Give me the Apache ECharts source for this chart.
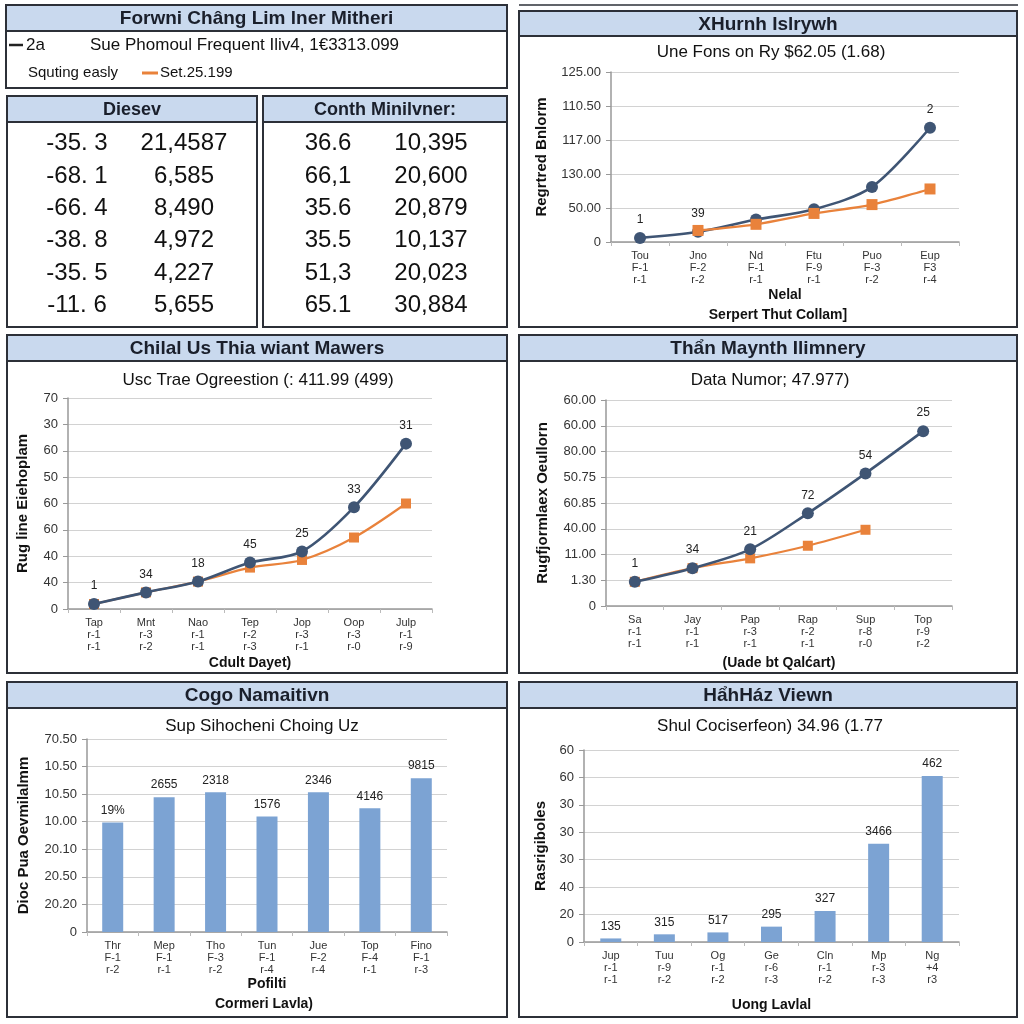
<!DOCTYPE html>
<html>
<head>
<meta charset="utf-8">
<script src="https://cdn.jsdelivr.net/npm/echarts@6/dist/echarts.min.js"></script>
<style>html,body{margin:0;padding:0;background:#fff}#c{width:1024px;height:1024px}</style>
</head>
<body>
<div id="c"></div>
<script>
// ---------- DATA ----------
const headerTitle = 'Forwni Châng Lim lner Mitheri';
const headerLine1a = '2a';
const headerLine1b = 'Sue Phomoul Frequent Iliv4, 1€3313.099';
const headerLine2a = 'Squting easly';
const headerLine2b = 'Set.25.199';

const tableLeftTitle = 'Diesev';
const tableLeftCol1 = ['-35. 3', '-68. 1', '-66. 4', '-38. 8', '-35. 5', '-11. 6'];
const tableLeftCol2 = ['21,4587', '6,585', '8,490', '4,972', '4,227', '5,655'];
const tableRightTitle = 'Conth Minilvner:';
const tableRightCol1 = ['36.6', '66,1', '35.6', '35.5', '51,3', '65.1'];
const tableRightCol2 = ['10,395', '20,600', '20,879', '10,137', '20,023', '30,884'];

// Top-right line chart
const trTitle = 'XHurnh Islrywh';
const trSubtitle = 'Une Fons on Ry $62.05 (1.68)';
const trCategories = ['Tou\nF-1\nr-1', 'Jno\nF-2\nr-2', 'Nd\nF-1\nr-1', 'Ftu\nF-9\nr-1', 'Puo\nF-3\nr-2', 'Eup\nF3\nr-4'];
const trNavy = [3, 7.5, 16.5, 24, 40.5, 84];
const trOrange = [null, 8.5, 13, 21, 27.5, 39];
const trTicks = ['0', '50.00', '130.00', '117.00', '110.50', '125.00'];
const trPointLabels = ['1', '39', '', '', '', '2'];
const trYName = 'Regrtred Bnlorm';
const trXName = 'Nelal';
const trXName2 = 'Serpert Thut Collam]';

// Middle-left line chart
const mlTitle = 'Chilal Us Thia wiant Mawers';
const mlSubtitle = 'Usc Trae Ogreestion (: 411.99 (499)';
const mlCategories = ['Tap\nr-1\nr-1', 'Mnt\nr-3\nr-2', 'Nao\nr-1\nr-1', 'Tep\nr-2\nr-3', 'Jop\nr-3\nr-1', 'Oop\nr-3\nr-0', 'Julp\nr-1\nr-9'];
const mlNavy = [1.9, 6.3, 10.4, 17.6, 21.8, 38.6, 62.7];
const mlOrange = [1.9, 6.3, 10.4, 15.7, 18.6, 27.1, 40.0];
const mlTicks = ['0', '40', '40', '60', '60', '50', '60', '30', '70'];
const mlPointLabels = ['1', '34', '18', '45', '25', '33', '31'];
const mlYName = 'Rug line Eiehoplam';
const mlXName = 'Cdult Dayet)';

// Middle-right line chart
const mrTitle = 'Thẩn Maynth Ilimnery';
const mrSubtitle = 'Data Numor; 47.977)';
const mrCategories = ['Sa\nr-1\nr-1', 'Jay\nr-1\nr-1', 'Pap\nr-3\nr-1', 'Rap\nr-2\nr-1', 'Sup\nr-8\nr-0', 'Top\nr-9\nr-2'];
const mrNavy = [9.4, 14.7, 22, 36, 51.5, 67.9];
const mrOrange = [9.4, 14.7, 18.5, 23.4, 29.6, null];
const mrTicks = ['0', '1.30', '11.00', '40.00', '60.85', '50.75', '80.00', '60.00', '60.00'];
const mrPointLabels = ['1', '34', '21', '72', '54', '25'];
const mrYName = 'Rugfjormlaex Oeullorn';
const mrXName = '(Uade bt Qalćart)';

// Bottom-left bar chart
const blTitle = 'Cogo Namaitivn';
const blSubtitle = 'Sup Sihocheni Choing Uz';
const blCategories = ['Thr\nF-1\nr-2', 'Mep\nF-1\nr-1', 'Tho\nF-3\nr-2', 'Tun\nF-1\nr-4', 'Jue\nF-2\nr-4', 'Top\nF-4\nr-1', 'Fino\nF-1\nr-3'];
const blValues = [39.7, 48.9, 50.7, 41.9, 50.7, 44.9, 55.8];
const blTicks = ['0', '20.20', '20.50', '20.10', '10.00', '10.50', '10.50', '70.50'];
const blBarLabels = ['19%', '2655', '2318', '1576', '2346', '4146', '9815'];
const blYName = 'Dioc Pua Oevmilalmm';
const blXName = 'Pofilti';
const blXName2 = 'Cormeri Lavla)';

// Bottom-right bar chart
const brTitle = 'HẩhHáz Viewn';
const brSubtitle = 'Shul Cociserfeon) 34.96 (1.77';
const brCategories = ['Jup\nr-1\nr-1', 'Tuu\nr-9\nr-2', 'Og\nr-1\nr-2', 'Ge\nr-6\nr-3', 'Cln\nr-1\nr-2', 'Mp\nr-3\nr-3', 'Ng\n+4\nr3'];
const brValues = [1.3, 2.8, 3.5, 5.6, 11.3, 35.8, 60.5];
const brTicks = ['0', '20', '40', '30', '30', '30', '60', '60'];
const brBarLabels = ['135', '315', '517', '295', '327', '3466', '462'];
const brYName = 'Rasrigiboles';
const brXName = 'Uong Lavlal';

// ---------- STYLE ----------
const FONT = '"Liberation Sans", Arial, sans-serif';
const NAVY = '#3f5574';
const ORANGE = '#e9823b';
const BAR = '#7ca3d3';
const BARFILL = '#c9d9ee';
const BORDER = '#2c3038';

const chart = echarts.init(document.getElementById('c'), null, {renderer: 'canvas'});

function panel(x1, y1, x2, y2, titleH, title, titleSize) {
  const els = [];
  if (titleH) {
    els.push({type: 'rect', shape: {x: x1, y: y1, width: x2 - x1, height: titleH},
      style: {fill: BARFILL, stroke: BORDER, lineWidth: 2}, z: 1});
    els.push({type: 'text', x: (x1 + x2) / 2, y: y1 + titleH / 2 + 1, z: 3,
      style: {text: title, fill: '#1a1f2b', font: 'bold ' + (titleSize || 19) + 'px ' + FONT, textAlign: 'center', textVerticalAlign: 'middle'}});
  }
  els.push({type: 'rect', shape: {x: x1, y: y1, width: x2 - x1, height: y2 - y1},
    style: {fill: 'none', stroke: BORDER, lineWidth: 2}, z: 2});
  return els;
}
function txt(x, y, text, font, align, color) {
  return {type: 'text', x: x, y: y, z: 3,
    style: {text: text, fill: color || '#111', font: font, textAlign: align || 'center', textVerticalAlign: 'middle'}};
}

const graphics = [];
// header panel
graphics.push(...panel(6, 5, 507, 88, 26, headerTitle));
graphics.push({type: 'line', shape: {x1: 9, y1: 45, x2: 23, y2: 45}, style: {stroke: '#222', lineWidth: 2.5}, z: 3});
graphics.push(txt(26, 45, headerLine1a, '17px ' + FONT, 'left'));
graphics.push(txt(90, 45, headerLine1b, '17px ' + FONT, 'left'));
graphics.push(txt(28, 73, headerLine2a, '15px ' + FONT, 'left'));
graphics.push({type: 'line', shape: {x1: 142, y1: 73, x2: 158, y2: 73}, style: {stroke: ORANGE, lineWidth: 3}, z: 3});
graphics.push(txt(160, 73, headerLine2b, '15px ' + FONT, 'left'));
// tables
graphics.push(...panel(7, 96, 257, 327, 26, tableLeftTitle, 18));
graphics.push(...panel(263, 96, 507, 327, 26, tableRightTitle, 18));
const rowY = [143, 176, 208, 240, 273, 305];
rowY.forEach((y, i) => {
  graphics.push(txt(77, y, tableLeftCol1[i], '24px ' + FONT));
  graphics.push(txt(184, y, tableLeftCol2[i], '24px ' + FONT));
  graphics.push(txt(328, y, tableRightCol1[i], '24px ' + FONT));
  graphics.push(txt(431, y, tableRightCol2[i], '24px ' + FONT));
});
// chart panels
graphics.push({type: 'line', shape: {x1: 519, y1: 5, x2: 1018, y2: 5}, style: {stroke: BORDER, lineWidth: 1.5}, z: 2});
graphics.push(...panel(519, 11, 1017, 327, 25, trTitle));
graphics.push(txt(771, 52, trSubtitle, '17px ' + FONT));
graphics.push(txt(778, 315, trXName2, 'bold 14px ' + FONT));

graphics.push(...panel(7, 335, 507, 673, 26, mlTitle));
graphics.push(txt(258, 380, mlSubtitle, '17px ' + FONT));

graphics.push(...panel(519, 335, 1017, 673, 26, mrTitle));
graphics.push(txt(770, 380, mrSubtitle, '17px ' + FONT));

graphics.push(...panel(7, 682, 507, 1017, 26, blTitle));
graphics.push(txt(262, 726, blSubtitle, '17px ' + FONT));
graphics.push(txt(264, 1004, blXName2, 'bold 14px ' + FONT));

graphics.push(...panel(519, 682, 1017, 1017, 26, brTitle));
graphics.push(txt(770, 726, brSubtitle, '17px ' + FONT));

// ---------- AXES ----------
function xAx(gridIndex, data, name, nameGap) {
  return {
    type: 'category', gridIndex: gridIndex, data: data,
    name: name, nameLocation: 'middle', nameGap: nameGap,
    nameTextStyle: {fontFamily: FONT, fontSize: 14, fontWeight: 'bold', color: '#111'},
    axisLine: {lineStyle: {color: '#999', width: 1.5}},
    axisTick: {show: true, length: 4, lineStyle: {color: '#bbb'}},
    axisLabel: {fontFamily: FONT, fontSize: 11, lineHeight: 12, color: '#333', margin: 8, interval: 0}
  };
}
function yAx(gridIndex, max, interval, ticks, name, nameGap) {
  return {
    type: 'value', gridIndex: gridIndex, min: 0, max: max, interval: interval,
    name: name, nameLocation: 'middle', nameGap: nameGap, nameRotate: 90,
    nameTextStyle: {fontFamily: FONT, fontSize: 15, fontWeight: 'bold', color: '#111'},
    axisLine: {show: true, lineStyle: {color: '#999', width: 1.5}},
    axisTick: {show: true, length: 5, lineStyle: {color: '#999'}},
    splitLine: {lineStyle: {color: '#d2d2d2', width: 1.2}},
    axisLabel: {fontFamily: FONT, fontSize: 13, color: '#333', margin: 10,
      formatter: v => ticks[Math.round(v / interval)] ?? ''}
  };
}
function lineSeries(idx, data, color, symbol, size, labels, z) {
  return {
    type: 'line', xAxisIndex: idx, yAxisIndex: idx, data: data, smooth: 0.3,
    symbol: symbol, symbolSize: size, z: z,
    lineStyle: {color: color, width: symbol === 'circle' ? 2.6 : 2.2},
    itemStyle: {color: color},
    label: labels ? {show: true, position: 'top', distance: 6, fontFamily: FONT, fontSize: 12, color: '#222',
      formatter: p => labels[p.dataIndex]} : {show: false}
  };
}
function barSeries(idx, data, labels) {
  return {
    type: 'bar', xAxisIndex: idx, yAxisIndex: idx, data: data, barWidth: 21,
    itemStyle: {color: BAR},
    label: {show: true, position: 'top', distance: 6, fontFamily: FONT, fontSize: 12, color: '#222',
      formatter: p => labels[p.dataIndex]}
  };
}

const option = {
  animation: false,
  backgroundColor: '#ffffff',
  textStyle: {fontFamily: FONT},
  grid: [
    {left: 611, top: 72, width: 348, height: 170, outerBoundsMode: 'none'},
    {left: 68, top: 398, width: 364, height: 211, outerBoundsMode: 'none'},
    {left: 606, top: 400, width: 346, height: 206, outerBoundsMode: 'none'},
    {left: 87, top: 739, width: 360, height: 193, outerBoundsMode: 'none'},
    {left: 584, top: 750, width: 375, height: 192, outerBoundsMode: 'none'}
  ],
  xAxis: [
    xAx(0, trCategories, trXName, 46),
    xAx(1, mlCategories, mlXName, 47),
    xAx(2, mrCategories, mrXName, 50),
    xAx(3, blCategories, blXName, 45),
    xAx(4, brCategories, brXName, 56)
  ],
  yAxis: [
    yAx(0, 125, 25, trTicks, trYName, 62),
    yAx(1, 80, 10, mlTicks, mlYName, 38),
    yAx(2, 80, 10, mrTicks, mrYName, 56),
    yAx(3, 70, 10, blTicks, blYName, 56),
    yAx(4, 70, 10, brTicks, brYName, 36)
  ],
  series: [
    lineSeries(0, trNavy, NAVY, 'circle', 12, trPointLabels, 3),
    lineSeries(0, trOrange, ORANGE, 'rect', 11, null, 4),
    lineSeries(1, mlOrange, ORANGE, 'rect', 10, null, 3),
    lineSeries(1, mlNavy, NAVY, 'circle', 12, mlPointLabels, 4),
    lineSeries(2, mrOrange, ORANGE, 'rect', 10, null, 3),
    lineSeries(2, mrNavy, NAVY, 'circle', 12, mrPointLabels, 4),
    barSeries(3, blValues, blBarLabels),
    barSeries(4, brValues, brBarLabels)
  ],
  graphic: {elements: graphics}
};
chart.setOption(option);
</script>
</body>
</html>
